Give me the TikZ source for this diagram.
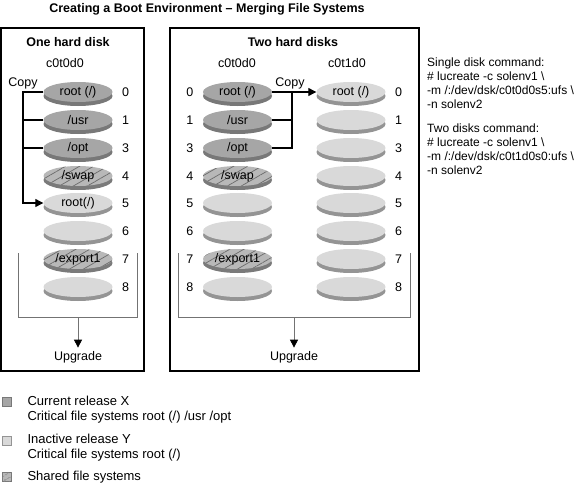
\documentclass[tikz,border=0pt]{standalone}
\usepackage{fontspec}
\setmainfont{Liberation Sans}
\usetikzlibrary{arrows.meta, shapes.geometric, patterns.meta}
\definecolor{curface}{gray}{0.65}
\definecolor{currim}{gray}{0.47}
\definecolor{inface}{gray}{0.85}
\definecolor{inrim}{gray}{0.58}
\definecolor{shface}{gray}{0.72}
\definecolor{shrim}{gray}{0.48}
\definecolor{hatch}{gray}{0.42}
\definecolor{bracketgray}{gray}{0.45}
\tikzset{
  disk/.style={ellipse, inner sep=0pt, minimum width=69pt, minimum height=20pt},
  current/.style={disk, fill=curface, preaction={fill=currim, transform canvas={yshift=-4pt}}},
  inactive/.style={disk, fill=inface, preaction={fill=inrim, transform canvas={yshift=-4pt}}},
  shared/.style={disk, fill=shface, preaction={fill=shrim, transform canvas={yshift=-4pt}},
    postaction={pattern={Lines[angle=30, distance=7pt, line width=0.7pt]}, pattern color=hatch}},
  rnum/.style={xshift=6pt},
  lnum/.style={xshift=-6pt},
  heading/.style={font=\fontsize{12.5}{14}\selectfont\bfseries},
  copyline/.style={line width=1.2pt},
  bracket/.style={bracketgray, line width=0.8pt},
  tip/.style={-{Triangle[length=8pt, width=8pt, color=black]}},
  legbox/.style={draw, line width=0.8pt, minimum size=9pt, inner sep=0pt},
  legtext/.style={anchor=west, align=left, font=\fontsize{13}{15}\selectfont},
  cmdtext/.style={anchor=west, align=left, inner sep=0pt, font=\fontsize{12}{14}\selectfont}
}
\begin{document}
\begin{tikzpicture}[x=1pt, y=-1pt, font=\fontsize{12.5}{14}\selectfont]
    \useasboundingbox (0,0) rectangle (578,487);
    \node[heading] (title) at (207,9) {Creating a Boot Environment -- Merging File Systems};

    \draw[line width=1.2pt] (1,28) rectangle (144,371);
    \draw[line width=1.2pt] (170,28) rectangle (419,371);

    \node[heading] (one) at (68,42) {One hard disk};
    \node (adisk) at (65,63) {c0t0d0};
    \node[current, label={[rnum]right:{0}}] (a0) at (78,92) {root (/)};
    \node[current, label={[rnum]right:{1}}] (a1) at (78,120) {/usr};
    \node[current, label={[rnum]right:{3}}] (a3) at (78,148) {/opt};
    \node[shared, label={[rnum]right:{4}}] (a4) at (78,176) {/swap};
    \node[inactive, label={[rnum]right:{5}}] (a5) at (78,203) {root(/)};
    \node[inactive, label={[rnum]right:{6}}] (a6) at (78,231) {};
    \node[shared, label={[rnum]right:{7}}] (a7) at (78,259) {/export1};
    \node[inactive, label={[rnum]right:{8}}] (a8) at (78,287) {};

    \node (acopy) at (23,83) {Copy};
    \coordinate (lcopy) at (23,92);
    \draw[copyline, tip] (a0.west) -- (lcopy) |- (a5.west);
    \draw[copyline] (a1.west) -- (a1.west -| lcopy);
    \draw[copyline] (a3.west) -- (a3.west -| lcopy);

    \node[heading] (two) at (293,42) {Two hard disks};
    \node (bdisk) at (237,63) {c0t0d0};
    \node (cdisk) at (347,63) {c0t1d0};
    \node[current, label={[lnum]left:{0}}] (b0) at (237.5,92) {root (/)};
    \node[current, label={[lnum]left:{1}}] (b1) at (237.5,120) {/usr};
    \node[current, label={[lnum]left:{3}}] (b3) at (237.5,148) {/opt};
    \node[shared, label={[lnum]left:{4}}] (b4) at (237.5,176) {/swap};
    \node[inactive, label={[lnum]left:{5}}] (b5) at (237.5,203) {};
    \node[inactive, label={[lnum]left:{6}}] (b6) at (237.5,231) {};
    \node[shared, label={[lnum]left:{7}}] (b7) at (237.5,259) {/export1};
    \node[inactive, label={[lnum]left:{8}}] (b8) at (237.5,287) {};
    \node[inactive, label={[rnum]right:{0}}] (c0) at (351,92) {root (/)};
    \node[inactive, label={[rnum]right:{1}}] (c1) at (351,120) {};
    \node[inactive, label={[rnum]right:{3}}] (c3) at (351,148) {};
    \node[inactive, label={[rnum]right:{4}}] (c4) at (351,176) {};
    \node[inactive, label={[rnum]right:{5}}] (c5) at (351,203) {};
    \node[inactive, label={[rnum]right:{6}}] (c6) at (351,231) {};
    \node[inactive, label={[rnum]right:{7}}] (c7) at (351,259) {};
    \node[inactive, label={[rnum]right:{8}}] (c8) at (351,287) {};

    \node (bcopy) at (290,83) {Copy};
    \coordinate (rcopy) at (292,92);
    \draw[copyline, tip] (b0.east) -- (c0.west);
    \draw[copyline] (b3.east) -| (rcopy);
    \draw[copyline] (b1.east) -- (b1.east -| rcopy);

    \draw[bracket] (18,253) |- (137,317) -- (137,253);
    \coordinate (agroup) at (78,317);
    \node (aup) at (78,357) {Upgrade};
    \draw[bracket, tip] (agroup) -- (aup.north);

    \draw[bracket] (178,253) |- (410,317) -- (410,253);
    \coordinate (bgroup) at (294,317);
    \node (bup) at (294,357) {Upgrade};
    \draw[bracket, tip] (bgroup) -- (bup.north);

    \node[cmdtext] (single) at (427,83.5) {Single disk command:\\\# lucreate -c solenv1 \textbackslash\\-m /:/dev/dsk/c0t0d0s5:ufs \textbackslash\\-n solenv2};
    \node[cmdtext] (double) at (427,149.5) {Two disks command:\\\# lucreate -c solenv1 \textbackslash\\-m /:/dev/dsk/c0t1d0s0:ufs \textbackslash\\-n solenv2};

    \node[legbox, draw=currim, fill=curface] (curkey) at (7,402) {};
    \node[legtext] (curtext) at (24,409.5) {Current release X\\Critical file systems root (/) /usr /opt};
    \node[legbox, draw=inrim, fill=inface] (inkey) at (7,441) {};
    \node[legtext] (intext) at (24,448) {Inactive release Y\\Critical file systems root (/)};
    \node[legbox, draw=shrim, fill=shface, postaction={pattern={Lines[angle=30, distance=4pt, line width=0.6pt]}, pattern color=hatch}] (shkey) at (7,477) {};
    \node[legtext] (shtext) at (24,477) {Shared file systems};
\end{tikzpicture}
\end{document}
